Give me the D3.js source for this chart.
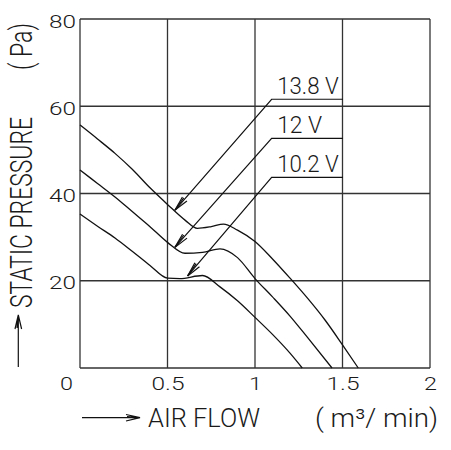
<!DOCTYPE html>
<html>
<head>
<meta charset="utf-8">
<script src="https://cdn.jsdelivr.net/npm/d3@7"></script>
<style>
  body { margin: 0; background: #fff; }
  svg text { font-family: "Roboto", "DejaVu Sans", sans-serif; font-weight: 300; fill: #1a1a1a; }
</style>
</head>
<body>
<svg width="451" height="450"></svg>
<script>
// fan P-Q curves
var xTicks = [0, 0.5, 1, 1.5, 2],
    yTicks = [20, 40, 60, 80];

var v138 = [[0, 55.7], [0.1, 52.5], [0.2, 49.2], [0.3, 45.5], [0.4, 41.3], [0.5, 37.5],
            [0.6, 33.9], [0.67, 32.0], [0.75, 32.4], [0.82, 33.0], [0.9, 31.6], [1.0, 29.0],
            [1.1, 25.0], [1.2, 20.6], [1.3, 16.0], [1.4, 11.0], [1.5, 5.3], [1.59, 0]];
var v12 = [[0, 45.4], [0.1, 42.3], [0.2, 39.2], [0.3, 35.8], [0.4, 32.4], [0.5, 28.8],
           [0.6, 26.3], [0.7, 26.5], [0.8, 27.3], [0.9, 25.3], [1.0, 20.5], [1.1, 16.3],
           [1.2, 11.9], [1.3, 7.0], [1.44, 0]];
var v102 = [[0, 35.3], [0.1, 32.5], [0.2, 29.8], [0.3, 26.7], [0.4, 23.5], [0.5, 20.6],
            [0.57, 20.5], [0.7, 21.2], [0.8, 18.6], [0.9, 15.4], [1.0, 11.6], [1.1, 7.7],
            [1.2, 3.4], [1.27, 0]];

var curves = [v138, v12, v102];
var labels = ["13.8 V", "12 V", "10.2 V"],
    labelY = [61.6, 52.65, 43.7],        // underline level (Pa)
    arrowTip = [[0.543, 36.2], [0.543, 27.7], [0.615, 21.1]],
    labelFrom = 1.095, labelTo = 1.503;  // underline span (m3/min)

var svg = d3.select("svg"),
    pl = 80, pt = 19, pr = 430, pb = 368;

var x = d3.scaleLinear().domain([0, 2]).range([pl, pr]),
    y = d3.scaleLinear().domain([0, 80]).range([pb, pt]);

// grid
var grid = svg.append("g").attr("stroke", "#333").attr("stroke-width", 1.3);
grid.selectAll(".gx").data(xTicks).enter().append("line")
    .attr("x1", function(d) { return x(d); }).attr("x2", function(d) { return x(d); })
    .attr("y1", y(0)).attr("y2", y(80));
grid.selectAll(".gy").data([0].concat(yTicks)).enter().append("line")
    .attr("x1", x(0)).attr("x2", x(2))
    .attr("y1", function(d) { return y(d); }).attr("y2", function(d) { return y(d); });

// tick labels
var yAxis = svg.append("g").attr("transform", "translate(" + pl + ",2)")
    .call(d3.axisLeft(y).tickValues(yTicks).tickSize(0).tickPadding(4));
var xAxis = svg.append("g").attr("transform", "translate(0," + pb + ")")
    .call(d3.axisBottom(x).tickValues(xTicks).tickSize(0).tickPadding(9)
      .tickFormat(function(d) { return String(d); }));
svg.selectAll(".domain").remove();
svg.selectAll(".tick text").attr("font-size", 19).attr("font-family", null).attr("fill", null);
yAxis.selectAll(".tick text").attr("textLength", 27).attr("lengthAdjust", "spacingAndGlyphs");
xAxis.selectAll(".tick text")
    .attr("textLength", function(d) { return d % 1 ? 33 : 13; }).attr("lengthAdjust", "spacingAndGlyphs")
    .attr("dx", function(d) { return d === 0 ? -14 : 0; });

// curves
var line = d3.line()
    .x(function(d) { return x(d[0]); })
    .y(function(d) { return y(d[1]); })
    .curve(d3.curveMonotoneX);

svg.append("g").selectAll("path").data(curves).enter().append("path")
    .attr("d", line).attr("fill", "none").attr("stroke", "#111").attr("stroke-width", 1.3);

// voltage labels with leaders
var ann = svg.append("g").attr("stroke", "#111").attr("stroke-width", 1.2).attr("fill", "none");
labels.forEach(function(t, i) {
  var tx = x(arrowTip[i][0]), ty = y(arrowTip[i][1]),
      ux = x(labelFrom), uy = y(labelY[i]);
  ann.append("path").attr("d", "M" + tx + "," + ty + "L" + ux + "," + uy + "L" + x(labelTo) + "," + uy);
  var a = Math.atan2(uy - ty, ux - tx), len = 15;
  [-0.2, -0.1, 0.2].forEach(function(o) {
    ann.append("line").attr("x1", tx).attr("y1", ty)
      .attr("x2", tx + len * Math.cos(a + o)).attr("y2", ty + len * Math.sin(a + o));
  });
  svg.append("text").attr("x", ux + 5.5).attr("y", uy - 5.5)
    .attr("font-size", 23)
    .attr("textLength", t === "12 V" ? 45 : 61.5).attr("lengthAdjust", "spacingAndGlyphs")
    .text(t);
});

// axis titles
svg.append("text").attr("x", 148).attr("y", 427).attr("font-size", 26)
    .attr("textLength", 112).attr("lengthAdjust", "spacingAndGlyphs").text("AIR FLOW");
svg.append("text").attr("x", 315).attr("y", 427).attr("font-size", 26)
    .attr("textLength", 123).attr("lengthAdjust", "spacingAndGlyphs").text("( m³/ min)");
svg.append("path").attr("fill", "none").attr("stroke", "#111").attr("stroke-width", 1.2)
    .attr("d", "M82,417.7H140M126,414.5L140,417.7L126,421M127,416.5L140,417.7");

svg.append("text").attr("transform", "translate(31.5,308) rotate(-90)").attr("font-size", 31)
    .attr("textLength", 191).attr("lengthAdjust", "spacingAndGlyphs").text("STATIC PRESSURE");
svg.append("text").attr("transform", "translate(31.5,70) rotate(-90)").attr("font-size", 31)
    .attr("textLength", 47).attr("lengthAdjust", "spacingAndGlyphs").text("( Pa)");
svg.append("path").attr("fill", "none").attr("stroke", "#111").attr("stroke-width", 1.2)
    .attr("d", "M18.3,367V315M15,329L18.3,315L21.6,329M17,328L18.3,315");
</script>
</body>
</html>
